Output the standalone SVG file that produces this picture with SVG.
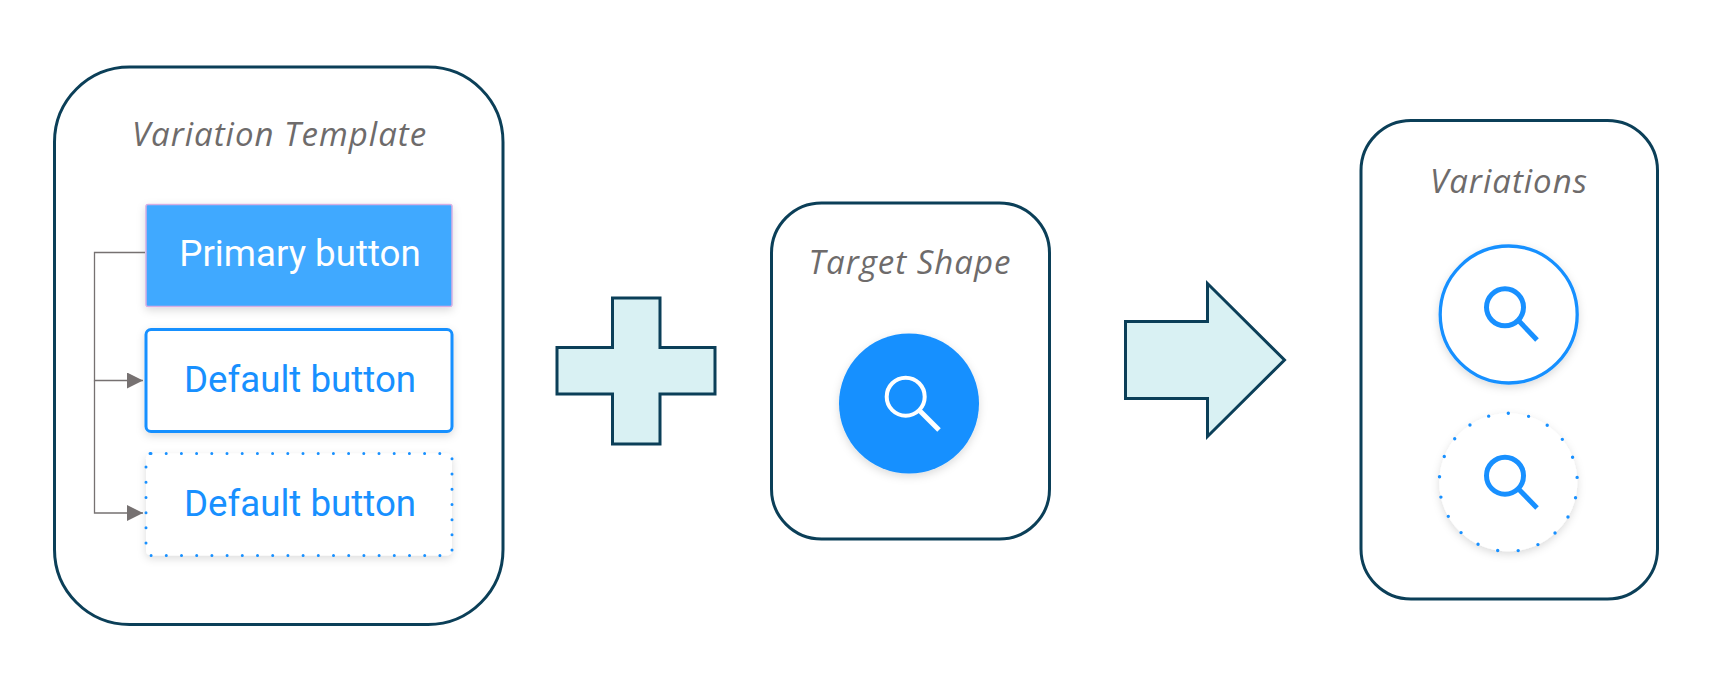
<svg xmlns="http://www.w3.org/2000/svg" width="1721" height="690" viewBox="0 0 1721 690">
<style>
.panel{fill:#fff;stroke:#0b3f58;stroke-width:3}
.sym{fill:#d9f1f3;stroke:#0b3f58;stroke-width:3}
.title{font-family:"Open Sans","Liberation Sans",sans-serif;font-style:italic;font-size:33px;letter-spacing:1px;fill:#6e6b6b;text-anchor:middle}
.btn{font-family:Roboto,"Liberation Sans",sans-serif;font-size:36.700px;text-anchor:middle;fill:#1890ff}
.btn-light{fill:#fff}
.conn{fill:none;stroke:#767171;stroke-width:1.3}
.glass{fill:none;stroke:#1890ff;stroke-width:5}
</style>
<defs>
<filter id="sh" x="-20%" y="-20%" width="140%" height="140%"><feDropShadow dx="0" dy="3" stdDeviation="4" flood-color="#000" flood-opacity="0.14"/></filter>
<marker id="ah" markerUnits="userSpaceOnUse" markerWidth="17" markerHeight="17" refX="16" refY="8" orient="auto"><path d="M0 0L16 8L0 16Z" fill="#767171"/></marker>
</defs>
<rect width="1721" height="690" fill="#fff"/>
<g id="variation-template">
<rect class="panel" x="54.500" y="67" width="448.500" height="557.500" rx="75"/>
<text class="title" x="279.500" y="146">Variation Template</text>
</g>
<g id="primary-button">
<rect x="146" y="204.500" width="306" height="102" rx="2" fill="#40a9ff" stroke="#d5aee3" stroke-width="1.500" filter="url(#sh)"/>
<text class="btn btn-light" x="300" y="266">Primary button</text>
</g>
<g id="default-button-solid">
<rect x="146" y="329.500" width="306" height="102" rx="5" fill="#fff" stroke="#1890ff" stroke-width="3" filter="url(#sh)"/>
<text class="btn" x="300" y="391.500">Default button</text>
</g>
<g id="default-button-dotted">
<rect x="146" y="453.500" width="306" height="102" rx="5" fill="#fff" filter="url(#sh)"/>
<rect x="146" y="453.500" width="306" height="102" rx="5" fill="none" stroke="#1890ff" stroke-width="3" stroke-linecap="round" stroke-dasharray="0 15.200"/>
<text class="btn" x="300" y="515.500">Default button</text>
</g>
<g id="connectors">
<path class="conn" d="M145 252.500H94.500V380.500H143" marker-end="url(#ah)"/>
<path class="conn" d="M94.500 380.500V513H143" marker-end="url(#ah)"/>
</g>
<g id="plus">
<path class="sym" d="M612.500 298H660V347.500H715V394H660V444H612.500V394H557V347.500H612.500Z"/>
</g>
<g id="target-shape">
<rect class="panel" x="771.500" y="203" width="278" height="336" rx="50"/>
<text class="title" x="910" y="274">Target Shape</text>
<circle cx="909" cy="403.500" r="70" fill="#1890ff" filter="url(#sh)"/>
<circle cx="905.700" cy="396.700" r="19" fill="none" stroke="#fff" stroke-width="4"/>
<path d="M920 411L939 430" fill="none" stroke="#fff" stroke-width="5"/>
</g>
<g id="result-arrow">
<path class="sym" d="M1125.500 321.500H1207.500V283.500L1284.500 360L1207.500 436.500V398.500H1125.500Z"/>
</g>
<g id="variations">
<rect class="panel" x="1361" y="120.500" width="296.500" height="478.500" rx="50"/>
<text class="title" x="1509" y="193">Variations</text>
</g>
<g id="variation-solid">
<circle cx="1508.700" cy="314.500" r="68.500" fill="#fff" stroke="#1890ff" stroke-width="3.300" filter="url(#sh)"/>
<circle class="glass" cx="1505" cy="307.300" r="18.500"/>
<path class="glass" d="M1519 321L1537 340"/>
</g>
<g id="variation-dotted">
<circle cx="1508.300" cy="482.300" r="69" fill="#fff" filter="url(#sh)"/>
<circle cx="1508.300" cy="482.300" r="69" fill="none" stroke="#1890ff" stroke-width="3.400" stroke-linecap="round" stroke-dasharray="0 20.645" transform="rotate(-90 1508.300 482.300)"/>
<circle class="glass" cx="1505" cy="475.700" r="18.500"/>
<path class="glass" d="M1519 489.500L1537 508"/>
</g>
</svg>
